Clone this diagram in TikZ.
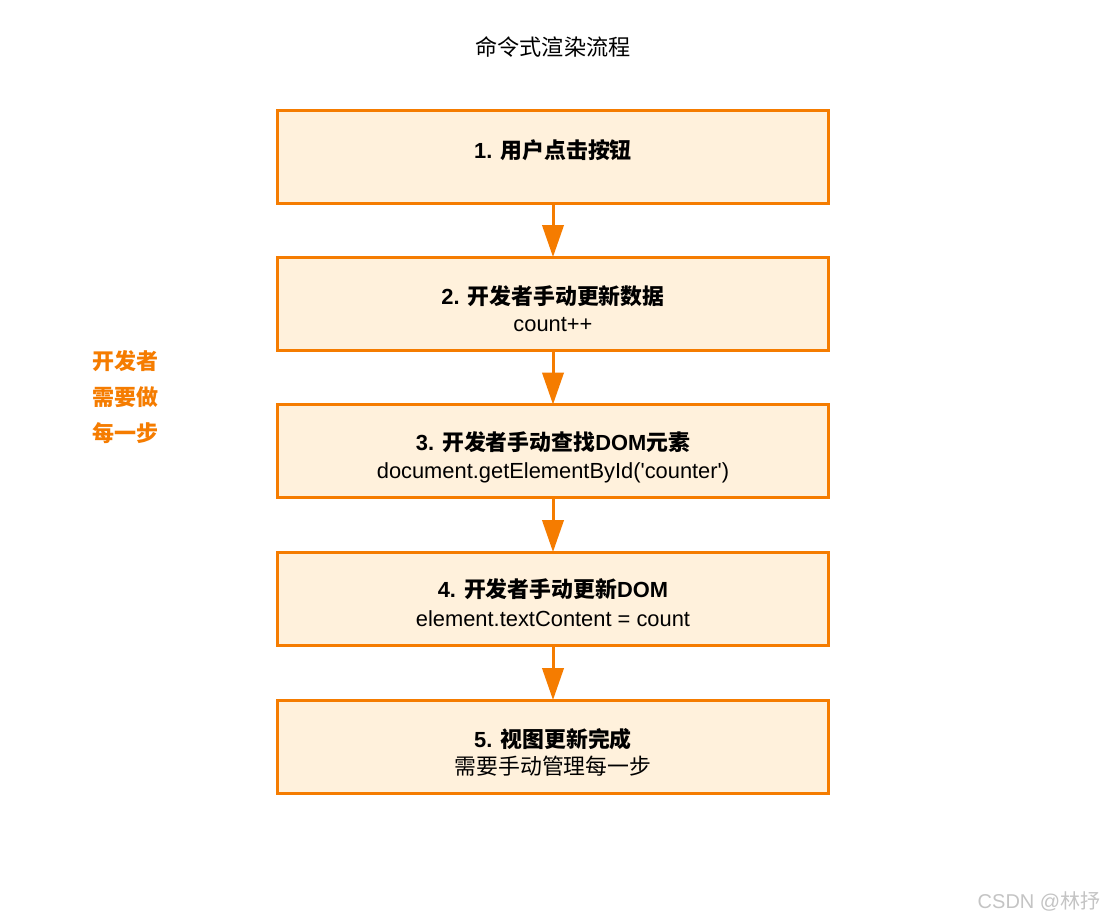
\documentclass[tikz,border=0pt]{standalone}
\usepackage{fontspec}
\setmainfont{Liberation Sans}
\newfontfamily\lat{Liberation Sans}
\newfontfamily\cjk{Noto Sans CJK SC}
\usetikzlibrary{arrows.meta}
\definecolor{og}{HTML}{F57C00}
\definecolor{ofill}{HTML}{FFF1DC}
\definecolor{wm}{HTML}{C4C4C4}
\begin{document}
\begin{tikzpicture}[x=0.75pt,y=-0.75pt,
  stepbox/.style={draw=og, line width=2.25pt, fill=ofill, minimum width=413.25pt, minimum height=69.75pt, inner sep=0pt, outer sep=0pt},
  flow/.style={draw=og, line width=2.25pt, -{Triangle[length=24pt,width=16pt]}},
  txt/.style={font=\fontsize{16.4}{19}\selectfont, anchor=base, inner sep=0pt},
  btxt/.style={txt, font=\fontsize{16.4}{19}\selectfont\bfseries},
  ttl/.style={txt, font=\fontsize{16.6}{19}\selectfont\cjk},
  side/.style={txt, font=\fontsize{16.5}{19}\selectfont\bfseries\cjk, text=og},
  wmark/.style={txt, font=\fontsize{15}{18}\selectfont, text=wm}]
\useasboundingbox (0,0) rectangle (1107,922);
\fill[white] (0,0) rectangle (1107,922);

\node[ttl] (title) at (553,55.5) {命令式渲染流程};

\node[stepbox] (b1) at (553,156.5) {};
\node[stepbox] (b2) at (553,303.5) {};
\node[stepbox] (b3) at (553,451) {};
\node[stepbox] (b4) at (553,598.5) {};
\node[stepbox] (b5) at (553,746.5) {};

\node[btxt] (t1) at (553,158.5) {1. {\cjk 用户点击按钮}};
\node[btxt] (t2) at (553,304.5) {2. {\cjk 开发者手动更新数据}};
\node[txt]  (s2) at (553,331) {count++};
\node[btxt] (t3) at (553,450.5) {3. {\cjk 开发者手动查找}DOM{\cjk 元素}};
\node[txt]  (s3) at (553,478) {\lat document.getElementById('counter')};
\node[btxt] (t4) at (553,597.5) {4. {\cjk 开发者手动更新}DOM};
\node[txt]  (s4) at (553,626) {element.textContent = count};
\node[btxt] (t5) at (553,747.5) {5. {\cjk 视图更新完成}};
\node[txt]  (s5) at (553,774.5) {\cjk 需要手动管理每一步};

\draw[flow] (b1.south) -- (b2.north);
\draw[flow] (b2.south) -- (b3.north);
\draw[flow] (b3.south) -- (b4.north);
\draw[flow] (b4.south) -- (b5.north);

\node[side] (l1) at (125.5,369.5) {开发者};
\node[side] (l2) at (125.5,405.5) {需要做};
\node[side] (l3) at (125.5,441.5) {每一步};

\node[wmark] (wm) at (1039,908.5) {CSDN @{\cjk 林抒}};
\end{tikzpicture}
\end{document}
